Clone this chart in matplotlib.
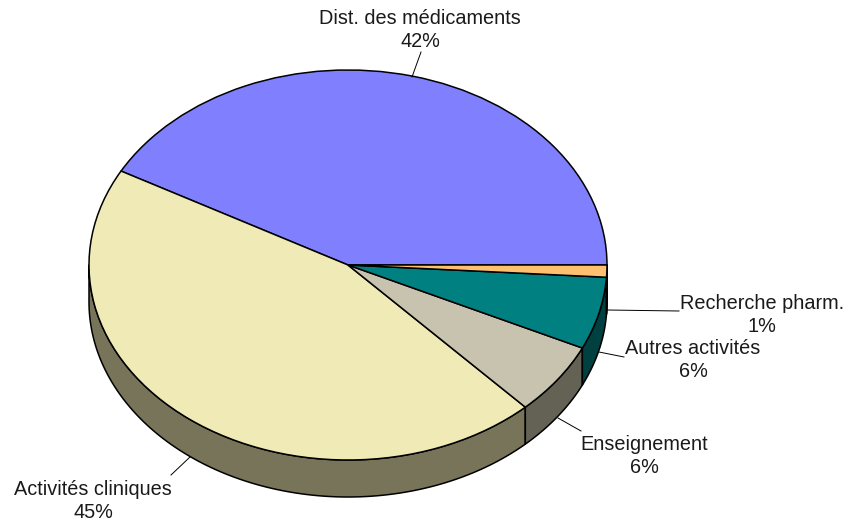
import numpy as np
import matplotlib
matplotlib.use('Agg')
import matplotlib.pyplot as plt

labels = ['Dist. des médicaments', 'Activités cliniques', 'Enseignement',
          'Autres activités', 'Recherche pharm.']
values = [42, 45, 6, 6, 1]
colors = ['#8080FF', '#F0EBB6', '#C8C3AF', '#008080', '#FFC070']
side_colors = ['#40407F', '#78745A', '#646155', '#004040', '#7F6038']

W, H = 848, 523
CX, CY, RX, RY = 348, 265, 259, 195
DEPTH = 37 / RY

# label text centre and leader line, in image pixels
label_pos = [(420, 30), (93, 501), (644, 456), (693, 360), (762, 315)]
leaders = [((412, 77), (421, 52)), ((190, 457), (171, 475)), ((558, 418), (581, 431)),
           ((599, 352), (624, 357)), ((607, 310), (679, 311))]

plt.rcParams['font.family'] = ['Liberation Sans', 'DejaVu Sans']

def px(x, y):
    return (x - CX) / RX, (CY - y) / RY

fig = plt.figure(figsize=(W / 100, H / 100), dpi=100)
ax = fig.add_axes([0, 0, 1, 1])

# walls of the 3d effect, only the front half shows
edges = np.cumsum([0] + values) / sum(values) * 360
for i in range(len(values)):
    a0 = max(edges[i], 180)
    a1 = edges[i + 1]
    if a1 <= a0:
        continue
    t = np.radians(np.linspace(a0, a1, 120))
    xs = np.r_[np.cos(t), np.cos(t[::-1])]
    ys = np.r_[np.sin(t), np.sin(t[::-1]) - DEPTH]
    ax.fill(xs, ys, facecolor=side_colors[i], edgecolor='black', lw=1.1, joinstyle='round')

ax.pie(values, colors=colors, startangle=0, counterclock=True, radius=1,
       wedgeprops={'edgecolor': 'black', 'linewidth': 1.1})
ax.set_aspect('auto')
ax.set_xlim(px(0, 0)[0], px(W, 0)[0])
ax.set_ylim(px(0, H)[1], px(0, 0)[1])
ax.axis('off')

for lab, val, pos, line in zip(labels, values, label_pos, leaders):
    x, y = px(*pos)
    ax.text(x, y, '%s\n%d%%' % (lab, val), ha='center', va='center', fontsize=14.3,
            linespacing=1.33, color='#1a1a1a')
    p0, p1 = px(*line[0]), px(*line[1])
    ax.plot([p0[0], p1[0]], [p0[1], p1[1]], color='black', lw=0.7)

fig.savefig('out.png', dpi=100)
